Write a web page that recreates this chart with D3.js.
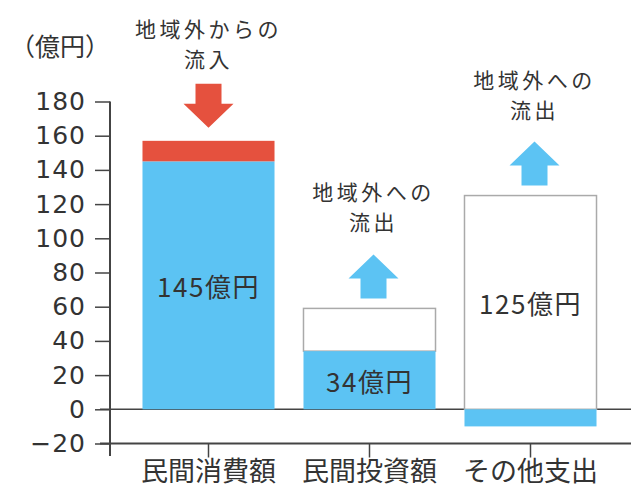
<!DOCTYPE html>
<html>
<head>
<meta charset="utf-8">
<script src="https://cdn.jsdelivr.net/npm/d3@7"></script>
<style>
  body { margin: 0; background: #fff; }
  svg { display: block; font-family: "Noto Sans CJK JP", sans-serif; }
</style>
</head>
<body>
<svg id="chart"></svg>
<script>
// data
const categories = ["民間消費額", "民間投資額", "その他支出"];
const localValues = [145, 34, -10];     // blue part
const inflowValues = [12, 0, 0];       // red part on top
const outflowValues = [0, 25, 125];    // white outlined box
const valueLabels = ["145億円", "34億円", "125億円"];
const noteLines = [["地域外からの", "流入"], ["地域外への", "流出"], ["地域外への", "流出"]];
const noteDir = ["down", "up", "up"];
const yTicks = [-20, 0, 20, 40, 60, 80, 100, 120, 140, 160, 180];

const width = 631, height = 494;
const blue = "#5cc3f3", red = "#e5513e", ink = "#333";

const svg = d3.select("#chart").attr("width", width).attr("height", height);

const x = d3.scaleBand()
  .domain(categories)
  .range([128, 611])
  .paddingInner(0.18)
  .paddingOuter(0.09);

const y = d3.scaleLinear()
  .domain([-20, 180])
  .range([443.5, 101.5]);

const rows = categories.map((c, i) => ({
  cat: c,
  local: localValues[i],
  inflow: inflowValues[i],
  outflow: outflowValues[i],
  label: valueLabels[i],
  note: noteLines[i],
  dir: noteDir[i]
}));

// zero line behind the bars
svg.append("line")
  .attr("x1", 100).attr("x2", width)
  .attr("y1", y(0)).attr("y2", y(0))
  .attr("stroke", "#444").attr("stroke-width", 1.5);

// outflow boxes
svg.selectAll("rect.out")
  .data(rows.filter(d => d.outflow > 0))
  .enter().append("rect")
  .attr("class", "out")
  .attr("x", d => x(d.cat))
  .attr("width", x.bandwidth())
  .attr("y", d => y(Math.max(d.local, 0) + d.outflow))
  .attr("height", d => y(Math.max(d.local, 0)) - y(Math.max(d.local, 0) + d.outflow))
  .attr("fill", "#fff")
  .attr("stroke", "#aaa")
  .attr("stroke-width", 1.5);

// local part
svg.selectAll("rect.local")
  .data(rows)
  .enter().append("rect")
  .attr("class", "local")
  .attr("x", d => x(d.cat))
  .attr("width", x.bandwidth())
  .attr("y", d => y(Math.max(d.local, 0)))
  .attr("height", d => Math.abs(y(d.local) - y(0)))
  .attr("fill", blue);

// inflow part
svg.selectAll("rect.in")
  .data(rows.filter(d => d.inflow > 0))
  .enter().append("rect")
  .attr("class", "in")
  .attr("x", d => x(d.cat))
  .attr("width", x.bandwidth())
  .attr("y", d => y(d.local + d.inflow))
  .attr("height", d => y(d.local) - y(d.local + d.inflow))
  .attr("fill", red);

// value labels in the middle of the main part
svg.selectAll("text.val")
  .data(rows)
  .enter().append("text")
  .attr("class", "val")
  .attr("x", d => x(d.cat) + x.bandwidth() / 2)
  .attr("y", d => y(Math.max(d.local, d.outflow) / 2))
  .attr("text-anchor", "middle")
  .attr("dominant-baseline", "central")
  .attr("font-size", 26)
  .attr("letter-spacing", 1.5)
  .attr("fill", ink)
  .text(d => d.label);

// arrows + notes
const arrowPath = (cx, tipY, dir) => {
  const s = dir === "up" ? 1 : -1; // up: shaft below tip
  const head = 24, shaft = 20, hw = 25, sw = 13;
  return `M${cx},${tipY}` +
    `L${cx + hw},${tipY + s * head}L${cx + sw},${tipY + s * head}` +
    `L${cx + sw},${tipY + s * (head + shaft)}L${cx - sw},${tipY + s * (head + shaft)}` +
    `L${cx - sw},${tipY + s * head}L${cx - hw},${tipY + s * head}Z`;
};

rows.forEach(d => {
  const cx = x(d.cat) + x.bandwidth() / 2 + (d.dir === "up" ? 4 : 0);
  const top = y(Math.max(d.local, 0) + d.inflow + d.outflow);
  let tip, line2;
  if (d.dir === "up") {
    tip = top - 54;
    line2 = tip - 33;
  } else {
    tip = top - 13;
    line2 = tip - 70;
  }
  svg.append("path")
    .attr("d", arrowPath(cx, tip, d.dir))
    .attr("fill", d.dir === "up" ? blue : red);
  d.note.forEach((t, j) => {
    svg.append("text")
      .attr("x", cx)
      .attr("y", line2 - (d.note.length - 1 - j) * 30)
      .attr("text-anchor", "middle")
      .attr("dominant-baseline", "central")
      .attr("font-size", 21)
      .attr("letter-spacing", 3.5)
      .attr("fill", ink)
      .text(t);
  });
});

// y axis
const yAxis = svg.append("g")
  .attr("transform", `translate(110,0)`)
  .call(d3.axisLeft(y).tickValues(yTicks).tickSize(15).tickPadding(9));
yAxis.select(".domain").remove();
yAxis.selectAll(".tick line").attr("stroke", "#444").attr("stroke-width", 1.5);
yAxis.selectAll(".tick text")
  .attr("font-size", 25)
  .attr("letter-spacing", 1)
  .attr("font-family", "DejaVu Sans, sans-serif")
  .attr("fill", ink);
svg.append("line")
  .attr("x1", 110).attr("x2", 110)
  .attr("y1", y(180)).attr("y2", 456)
  .attr("stroke", "#444").attr("stroke-width", 2);

// x axis at -20
const xAxis = svg.append("g")
  .attr("transform", `translate(0,${y(-20)})`)
  .call(d3.axisBottom(x).tickSize(14).tickPadding(4));
xAxis.select(".domain").remove();
xAxis.selectAll(".tick line").attr("stroke", "#444").attr("stroke-width", 1.5);
xAxis.selectAll(".tick text")
  .attr("font-size", 27)
  .attr("font-family", "Noto Sans CJK JP, sans-serif")
  .attr("fill", ink);
svg.append("line")
  .attr("x1", 100).attr("x2", width)
  .attr("y1", y(-20)).attr("y2", y(-20))
  .attr("stroke", "#444").attr("stroke-width", 2);

// unit label
svg.append("text")
  .attr("x", 60).attr("y", 45)
  .attr("text-anchor", "middle")
  .attr("dominant-baseline", "central")
  .attr("font-size", 25)
  .attr("fill", ink)
  .text("（億円）");
</script>
</body>
</html>
